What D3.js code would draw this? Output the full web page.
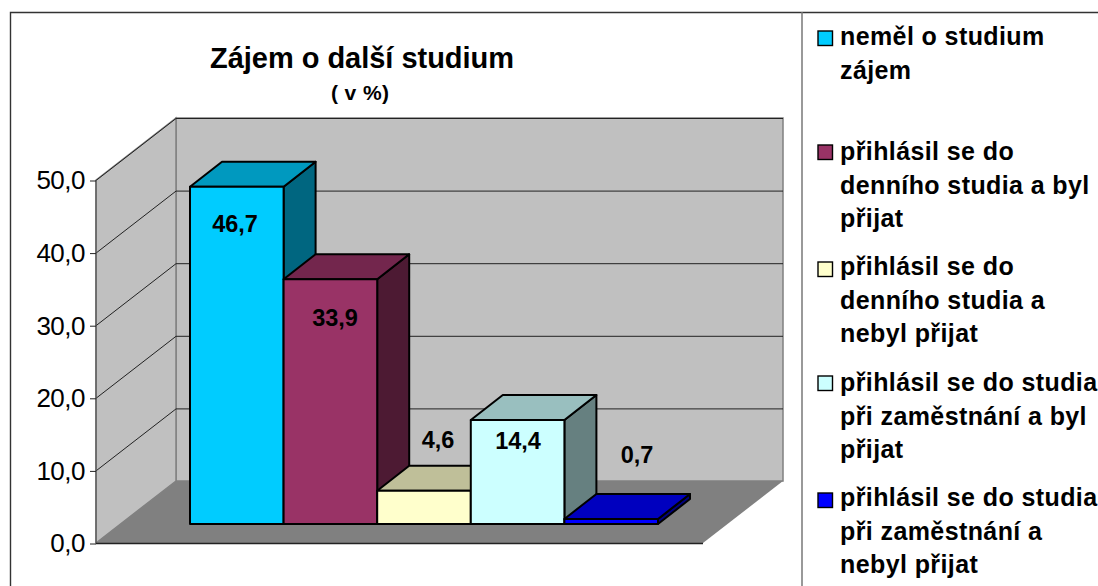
<!DOCTYPE html>
<html>
<head>
<meta charset="utf-8">
<script src="https://cdn.jsdelivr.net/npm/d3@7"></script>
<style>
  html, body { margin: 0; padding: 0; background: #fff; }
  svg { display: block; }
  text { font-family: "Liberation Sans", Arial, sans-serif; fill: #000; }
</style>
</head>
<body>
<svg id="chart" width="1098" height="586"></svg>
<script>
const categories = [
    "neměl o studium zájem",
    "přihlásil se do denního studia a byl přijat",
    "přihlásil se do denního studia a nebyl přijat",
    "přihlásil se do studia při zaměstnání a byl přijat",
    "přihlásil se do studia při zaměstnání a nebyl přijat"
];
const values = [46.7, 33.9, 4.6, 14.4, 0.7];
const colors = ["#00ccff", "#993366", "#ffffcc", "#ccffff", "#0000ff"];
const legendLines = [
    ["neměl o studium", "zájem"],
    ["přihlásil se do", "denního studia a byl", "přijat"],
    ["přihlásil se do", "denního studia a", "nebyl přijat"],
    ["přihlásil se do studia", "při zaměstnání a byl", "přijat"],
    ["přihlásil se do studia", "při zaměstnání a", "nebyl přijat"]
];
const yTicks = [0, 10, 20, 30, 40, 50];

const svg = d3.select("#chart");
const fmt = d => d.toFixed(1).replace(".", ",");
const shade = (c, k) => { const r = d3.rgb(c); return d3.rgb(r.r * k, r.g * k, r.b * k).formatHex(); };

// frame
svg.append("path").attr("fill", "none").attr("stroke", "#333").attr("stroke-width", 1.4)
    .attr("d", "M10.5,586V12.5H1098");
svg.append("line").attr("x1", 802).attr("x2", 802).attr("y1", 12).attr("y2", 586)
    .attr("stroke", "#777").attr("stroke-width", 1.5);

// title
svg.append("text").attr("x", 362).attr("y", 68).attr("text-anchor", "middle")
    .attr("font-size", 29).attr("font-weight", "bold").attr("textLength", 304).text("Zájem o další studium");
svg.append("text").attr("x", 360).attr("y", 100).attr("text-anchor", "middle")
    .attr("font-size", 21).attr("font-weight", "bold").attr("textLength", 58).text("( v %)");

// 3D box
const y = d3.scaleLinear().domain([0, 50]).range([543, 180]);
const left = 96, right = 703, depthX = 80, depthY = -62;
const box = svg.append("g");

box.append("path").attr("fill", "#c0c0c0").attr("stroke", "#808080").attr("stroke-width", 1.5)
    .attr("d", `M${left + depthX},${y(0) + depthY}V${y(50) + depthY}H${right + depthX}V${y(0) + depthY}Z`);
box.append("path").attr("fill", "#c0c0c0").attr("stroke", "#808080").attr("stroke-width", 1.5)
    .attr("d", `M${left},${y(0)}V${y(50)}L${left + depthX},${y(50) + depthY}V${y(0) + depthY}Z`);
box.append("path").attr("fill", "#808080")
    .attr("d", `M${left},${y(0)}H${right}L${right + depthX},${y(0) + depthY}H${left + depthX}Z`);

// gridlines, side wall then back wall
const grid = yTicks.filter(d => d > 0);
box.append("g").selectAll("path").data(grid).join("path")
    .attr("fill", "none").attr("stroke", "#222").attr("stroke-width", 1)
    .attr("d", d => `M${left},${y(d) + 0.5}L${left + depthX},${y(d) + depthY + 0.5}H${right + depthX}`);
box.select("g").append("path").attr("fill", "none").attr("stroke", "#555").attr("stroke-width", 1.2)
    .attr("d", `M${left},${y(50)}V${y(0)}`);
box.append("path").attr("fill", "none").attr("stroke", "#222").attr("stroke-width", 1.4)
    .attr("d", `M${left},${y(0) + 0.5}H${right}`);

// axis
const axis = svg.append("g").attr("transform", `translate(${left},0.5)`)
    .call(d3.axisLeft(y).tickValues(yTicks).tickSize(6).tickPadding(5).tickFormat(fmt));
axis.select(".domain").remove();
axis.selectAll("line").attr("stroke", "#222").attr("stroke-width", 1);
axis.selectAll("text").attr("font-size", 26).attr("letter-spacing", -0.5)
    .attr("font-family", "Liberation Sans, Arial, sans-serif");

// bars stand in front of the floor edge, so they get a slightly shorter scale
const x = d3.scaleBand().domain(categories).range([190, 658]);
const barY = d3.scaleLinear().domain([0, 50]).range([524, 163]);
const barDX = 32, barDY = -25;
const bars = svg.append("g").selectAll("g").data(categories).join("g")
    .attr("stroke", "#000").attr("stroke-width", 2).attr("stroke-linejoin", "round");

bars.each(function (c, i) {
    const g = d3.select(this);
    const x0 = x(c), x1 = x0 + x.bandwidth();
    const yb = barY(0), yt = barY(values[i]);
    g.append("path").attr("fill", shade(colors[i], 0.5))
        .attr("d", `M${x1},${yb}V${yt}L${x1 + barDX},${yt + barDY}V${yb + barDY}Z`);
    g.append("path").attr("fill", shade(colors[i], 0.75))
        .attr("d", `M${x0},${yt}L${x0 + barDX},${yt + barDY}H${x1 + barDX}L${x1},${yt}Z`);
    g.append("rect").attr("x", x0).attr("y", yt).attr("width", x.bandwidth()).attr("height", yb - yt)
        .attr("fill", colors[i]);
});

// value labels were placed by hand in the original
const labelPos = [[235, 232], [335, 326], [438, 448], [518, 449], [637, 463]];
svg.append("g").selectAll("text").data(values).join("text")
    .attr("x", (d, i) => labelPos[i][0]).attr("y", (d, i) => labelPos[i][1])
    .attr("text-anchor", "middle").attr("font-size", 23.5).attr("font-weight", "bold")
    .text(fmt);

// legend
const legendBase = [45, 160, 275, 391, 506];
const swatchTop = [31, 145, 262, 376, 493];
const lineGap = 33.5;
const legend = svg.append("g").selectAll("g").data(legendLines).join("g");
legend.append("rect").attr("x", 818).attr("y", (d, i) => swatchTop[i]).attr("width", 14.5).attr("height", 14.5)
    .attr("fill", (d, i) => colors[i]).attr("stroke", "#000").attr("stroke-width", 1.4);
legend.each(function (lines, i) {
    d3.select(this).selectAll("text").data(lines).join("text")
        .attr("x", 840).attr("y", (d, j) => legendBase[i] + j * lineGap)
        .attr("font-size", 25).attr("font-weight", "bold").attr("letter-spacing", 0.4)
        .text(d => d);
});
</script>
</body>
</html>
